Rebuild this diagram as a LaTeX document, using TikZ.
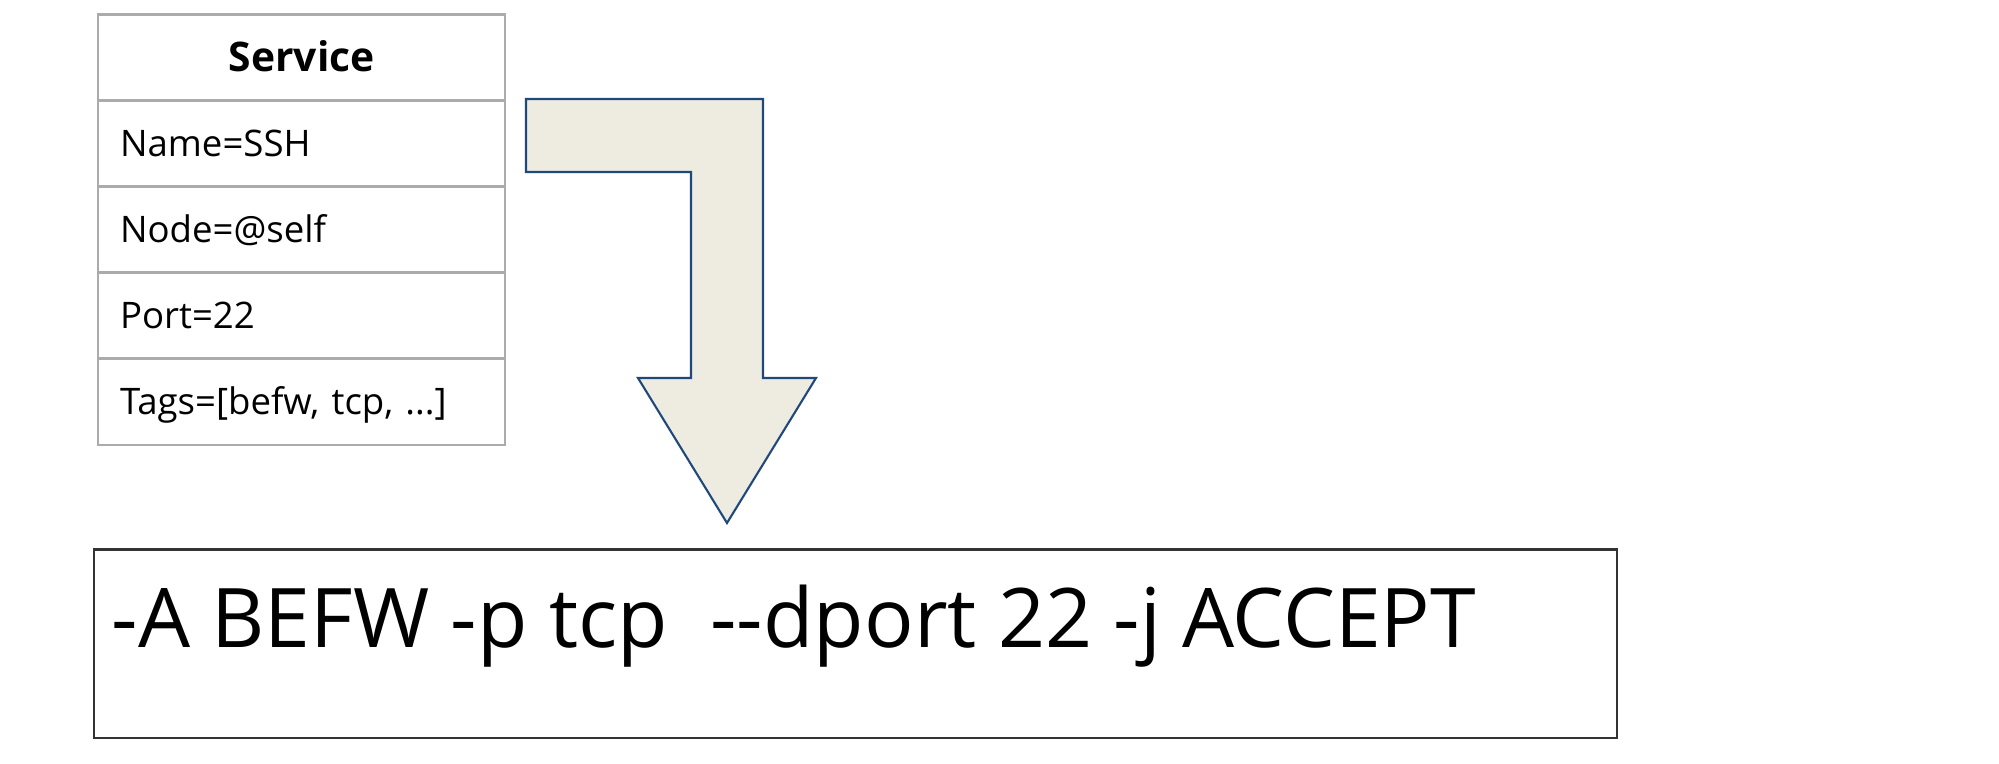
\documentclass[tikz,border=0pt]{standalone}
\usepackage{fontspec}
\setmainfont{Open Sans}
\definecolor{tablegray}{HTML}{ABABAB}
\definecolor{arrowfill}{HTML}{EEEBE1}
\definecolor{arrowline}{HTML}{1F497D}
\definecolor{boxline}{HTML}{333333}
\begin{document}
\begin{tikzpicture}[x=0.01cm,y=-0.01cm,
  cell/.style={draw=tablegray, line width=0.6pt, anchor=north west,
    minimum width=4.07cm, minimum height=0.86cm, inner xsep=0.22cm, inner ysep=0pt,
    text width=3.63cm, align=left, text height=7.5pt, text depth=0pt,
    font=\fontsize{10.4pt}{12pt}\selectfont},
  headcell/.style={cell, align=center, text height=8.2pt,
    font=\fontsize{11.6pt}{13pt}\selectfont\bfseries},
  bigarrow/.style={draw=arrowline, fill=arrowfill, line width=0.6pt, line join=miter},
  rulebox/.style={draw=boxline, line width=0.6pt, anchor=north west,
    minimum width=15.22cm, minimum height=1.88cm, inner sep=0pt}
]
\useasboundingbox (0,0) rectangle (1999,764);
\fill[white] (0,0) rectangle (1999,764);

\node[headcell] (hd) at (97,13.5) {Service};
\node[cell] (r1) at (97,99.5) {Name=SSH};
\node[cell] (r2) at (97,185.5) {Node=@self};
\node[cell] (r3) at (97,271.5) {Port=22};
\node[cell] (r4) at (97,357.5) {Tags=[befw, tcp, ...]};

\draw[bigarrow] (526,99) -- (763,99) -- (763,378) -- (816,378) -- (727,523)
  -- (638,378) -- (691,378) -- (691,172) -- (526,172) -- cycle;

\node[rulebox] (rule) at (93,548.5) {};
\node[anchor=base west, inner sep=0pt, font=\fontsize{23.4pt}{28pt}\selectfont]
  (ruletext) at (111,647.5) {-A BEFW -p tcp\ \ -{}-dport 22 -j ACCEPT};
\end{tikzpicture}
\end{document}
